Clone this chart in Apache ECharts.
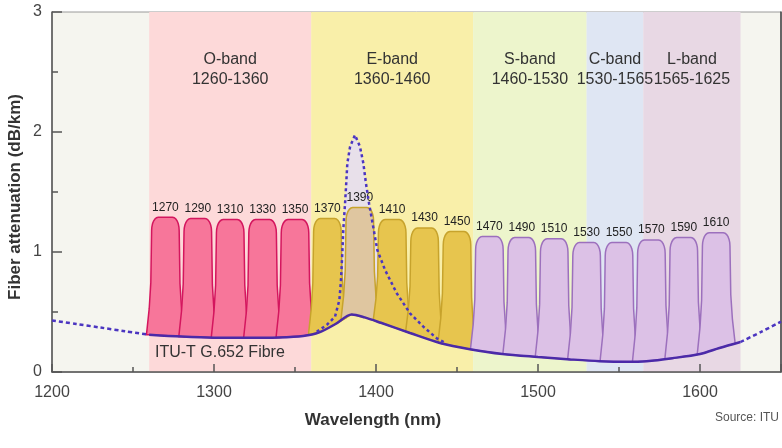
<!DOCTYPE html>
<html>
<head>
<meta charset="utf-8">
<script src="https://cdn.jsdelivr.net/npm/echarts@6/dist/echarts.min.js"></script>
<style>
  html, body { margin: 0; padding: 0; background: #fff; }
  #chart { width: 782px; height: 448px; }
</style>
</head>
<body>
<div id="chart"></div>
<script>
// ITU bands
const bandNames = ['O-band', 'E-band', 'S-band', 'C-band', 'L-band'];
const bandStart = [1260, 1360, 1460, 1530, 1565];
const bandEnd = [1360, 1460, 1530, 1565, 1625];

// CWDM channels (nm) and height of each filter top (dB/km)
const channels = [1270, 1290, 1310, 1330, 1350, 1370, 1390, 1410, 1430, 1450,
  1470, 1490, 1510, 1530, 1550, 1570, 1590, 1610];
const channelTops = [1.29, 1.28, 1.27, 1.27, 1.27, 1.28, 1.37, 1.27, 1.2, 1.17,
  1.13, 1.12, 1.11, 1.08, 1.08, 1.1, 1.12, 1.16];

// G.652 attenuation curve (solid part)
const attX = [1260, 1280, 1300, 1320, 1340, 1355, 1365, 1375, 1385, 1393, 1403, 1421,
  1440, 1458, 1478, 1500, 1520, 1538, 1555, 1567, 1583, 1600, 1612, 1625];
const attY = [0.31, 0.295, 0.286, 0.285, 0.288, 0.3, 0.33, 0.4, 0.48, 0.455, 0.41, 0.325,
  0.24, 0.19, 0.15, 0.125, 0.105, 0.09, 0.085, 0.09, 0.115, 0.15, 0.2, 0.25];
// dashed ends outside the bands
const attLeftX = [1200, 1215, 1230, 1245, 1260];
const attLeftY = [0.43, 0.4, 0.37, 0.34, 0.31];
const attRightX = [1625, 1638, 1650];
const attRightY = [0.25, 0.336, 0.42];

// water peak (older fibre)
const peakX = [1363.4, 1369.6, 1374.7, 1377.4, 1378.4, 1379.2, 1379.8, 1380.9, 1381.5, 1382.3,
  1384, 1387, 1390.1, 1392.2, 1393.8, 1395.7, 1397.9, 1400.8, 1405.6, 1412.8, 1421, 1429.2,
  1437.5, 1442.6];
const peakY = [0.336, 0.392, 0.461, 0.6, 0.767, 0.989, 1.183, 1.406, 1.544, 1.739,
  1.878, 1.975, 1.878, 1.739, 1.572, 1.406, 1.239, 1.017, 0.85, 0.656, 0.489, 0.378,
  0.281, 0.244];

const xTicks = [1200, 1300, 1400, 1500, 1600];

const bandColors = ['#fdd9d9', '#f9efa9', '#edf5cc', '#dfe6f3', '#e8d8e4'];
const FONT = '"Liberation Sans", Arial, sans-serif';

function pairs(xs, ys) {
  return xs.map((x, i) => [x, ys[i]]);
}

function attAt(x) {
  if (x <= attX[0]) return attY[0];
  for (let i = 1; i < attX.length; i++) {
    if (x <= attX[i]) {
      const t = (x - attX[i - 1]) / (attX[i] - attX[i - 1]);
      return attY[i - 1] + t * (attY[i] - attY[i - 1]);
    }
  }
  return attY[attY.length - 1];
}

function filterStyle(c) {
  if (c === 1390) return { fill: '#dfc6a0', stroke: '#c7a32c' };
  if (c < 1360) return { fill: '#f7769a', stroke: '#d4165e' };
  if (c < 1460) return { fill: '#e7c54e', stroke: '#c7a32c' };
  return { fill: '#dcc1e6', stroke: '#9c70bd' };
}

// filter outline: rounded top, sides flaring towards the fibre curve
const cornerRx = 4.1, cornerRy = 0.11, cornerCx = 4.4;
const sideF = [0, 0.5, 0.75, 1];
const sideW = [8.5, 9.0, 10.0, 11.7];

function renderFilter(params, api) {
  const c = api.value(0);
  const top = api.value(1);
  const ySide = top - cornerRy;
  const pts = [];
  // left side, bottom to top
  const ybL = attAt(c - sideW[3]);
  for (let i = sideF.length - 1; i >= 0; i--) {
    pts.push(api.coord([c - sideW[i], ySide - sideF[i] * (ySide - ybL)]));
  }
  // rounded top
  for (let k = 0; k <= 6; k++) {
    const a = Math.PI - k * Math.PI / 12;
    pts.push(api.coord([c - cornerCx + cornerRx * Math.cos(a), ySide + cornerRy * Math.sin(a)]));
  }
  for (let k = 0; k <= 6; k++) {
    const a = Math.PI / 2 - k * Math.PI / 12;
    pts.push(api.coord([c + cornerCx + cornerRx * Math.cos(a), ySide + cornerRy * Math.sin(a)]));
  }
  // right side, top to bottom
  const ybR = attAt(c + sideW[3]);
  for (let i = 0; i < sideF.length; i++) {
    pts.push(api.coord([c + sideW[i], ySide - sideF[i] * (ySide - ybR)]));
  }
  // along the fibre curve back to the start
  for (let i = attX.length - 1; i >= 0; i--) {
    if (attX[i] > c - sideW[3] && attX[i] < c + sideW[3]) pts.push(api.coord([attX[i], attY[i]]));
  }
  const st = filterStyle(c);
  const labelPos = api.coord([c, top]);
  return {
    type: 'group',
    children: [
      {
        type: 'polygon',
        shape: { points: pts },
        style: { fill: st.fill, stroke: st.stroke, lineWidth: 1.5 }
      },
      {
        type: 'text',
        x: labelPos[0],
        y: labelPos[1] - 10,
        style: {
          text: String(c), align: 'center', verticalAlign: 'middle',
          font: '12px ' + FONT, fill: '#222'
        }
      }
    ]
  };
}

function renderPeakFill(params, api) {
  const pts = pairs(peakX, peakY).map(p => api.coord(p));
  const x0 = peakX[0], x1 = peakX[peakX.length - 1];
  pts.push(api.coord([x1, attAt(x1)]));
  for (let i = attX.length - 1; i >= 0; i--) {
    if (attX[i] > x0 && attX[i] < x1) pts.push(api.coord([attX[i], attY[i]]));
  }
  pts.push(api.coord([x0, attAt(x0)]));
  return {
    type: 'polygon',
    shape: { points: pts },
    style: { fill: '#e6def0', opacity: 0.92 }
  };
}

const chart = echarts.init(document.getElementById('chart'));

chart.setOption({
  animation: false,
  grid: {
    left: 52, right: 1, top: 12, bottom: 76,
    show: true, backgroundColor: '#f5f5ef', borderColor: '#9a9a9a', borderWidth: 1
  },
  xAxis: {
    type: 'value', min: 1200, max: 1650, interval: 100,
    axisLine: { lineStyle: { color: '#555', width: 1.5 } },
    axisTick: { inside: true, length: 8, lineStyle: { color: '#555', width: 1.5 } },
    minorTick: { show: true, splitNumber: 2, length: 5, lineStyle: { color: '#555', width: 1.5 } },
    splitLine: { show: false },
    axisLabel: {
      margin: 13, fontSize: 16, color: '#444', fontFamily: FONT,
      showMaxLabel: false,
      formatter: v => (xTicks.indexOf(v) >= 0 ? String(v) : '')
    }
  },
  yAxis: [
    {
      type: 'value', min: 0, max: 3, interval: 1,
      axisLine: { show: true, lineStyle: { color: '#555', width: 1.5 } },
      axisTick: { show: true, inside: true, length: 10, lineStyle: { color: '#555', width: 1.5 } },
      minorTick: { show: true, splitNumber: 2, length: 6, lineStyle: { color: '#555', width: 1.5 } },
      splitLine: { show: false },
      axisLabel: { margin: 10, fontSize: 16, color: '#444', fontFamily: FONT }
    },
    {
      type: 'value', min: 0, max: 3, position: 'right',
      axisLine: { show: true, lineStyle: { color: '#444', width: 1.5 } },
      axisTick: { show: false }, axisLabel: { show: false }, splitLine: { show: false }
    }
  ],
  graphic: [
    {
      type: 'text', x: 15, y: 197, rotation: Math.PI / 2,
      style: {
        text: 'Fiber attenuation (dB/km)', align: 'center', verticalAlign: 'middle',
        font: 'bold 17px ' + FONT, fill: '#333'
      }
    },
    {
      type: 'text', x: 373, y: 420,
      style: {
        text: 'Wavelength (nm)', align: 'center', verticalAlign: 'middle',
        font: 'bold 17px ' + FONT, fill: '#333'
      }
    },
    {
      type: 'text', x: 779, y: 418,
      style: {
        text: 'Source: ITU', align: 'right', verticalAlign: 'middle',
        font: '12px ' + FONT, fill: '#555'
      }
    },
    {
      type: 'text', x: 155, y: 353, z: 10,
      style: {
        text: 'ITU-T G.652 Fibre', align: 'left', verticalAlign: 'middle',
        font: '16px ' + FONT, fill: '#333'
      }
    }
  ],
  series: [
    {
      name: 'bands',
      type: 'line',
      data: [],
      z: 0,
      markArea: {
        silent: true,
        z: 0,
        label: {
          show: true, position: 'insideTop', distance: 38,
          fontSize: 16, lineHeight: 20, color: '#333', fontFamily: FONT
        },
        data: bandNames.map((n, i) => [
          {
            name: n + '\n' + bandStart[i] + '-' + bandEnd[i],
            xAxis: bandStart[i],
            itemStyle: { color: bandColors[i], opacity: 1 }
          },
          { xAxis: bandEnd[i] }
        ])
      }
    },
    {
      name: 'water peak fill',
      type: 'custom',
      renderItem: renderPeakFill,
      data: [[peakX[11], peakY[11]]],
      z: 2,
      silent: true
    },
    {
      name: 'CWDM',
      type: 'custom',
      renderItem: renderFilter,
      data: pairs(channels, channelTops),
      z: 3,
      silent: true
    },
    {
      name: 'G.652',
      type: 'line',
      data: pairs(attX, attY),
      smooth: 0.3,
      symbol: 'none',
      z: 5,
      lineStyle: { color: '#4b2aa8', width: 2.5 }
    },
    {
      name: 'G.652 left',
      type: 'line',
      data: pairs(attLeftX, attLeftY),
      smooth: 0.3,
      symbol: 'none',
      z: 5,
      lineStyle: { color: '#4b35c0', width: 2.5, type: [4, 3] }
    },
    {
      name: 'G.652 right',
      type: 'line',
      data: pairs(attRightX, attRightY),
      smooth: 0.3,
      symbol: 'none',
      z: 5,
      lineStyle: { color: '#4b35c0', width: 2.5, type: [4, 3] }
    },
    {
      name: 'water peak',
      type: 'line',
      data: pairs(peakX, peakY),
      symbol: 'none',
      z: 6,
      lineStyle: { color: '#4b35c0', width: 2.5, type: [3, 3] }
    }
  ]
});
</script>
</body>
</html>
